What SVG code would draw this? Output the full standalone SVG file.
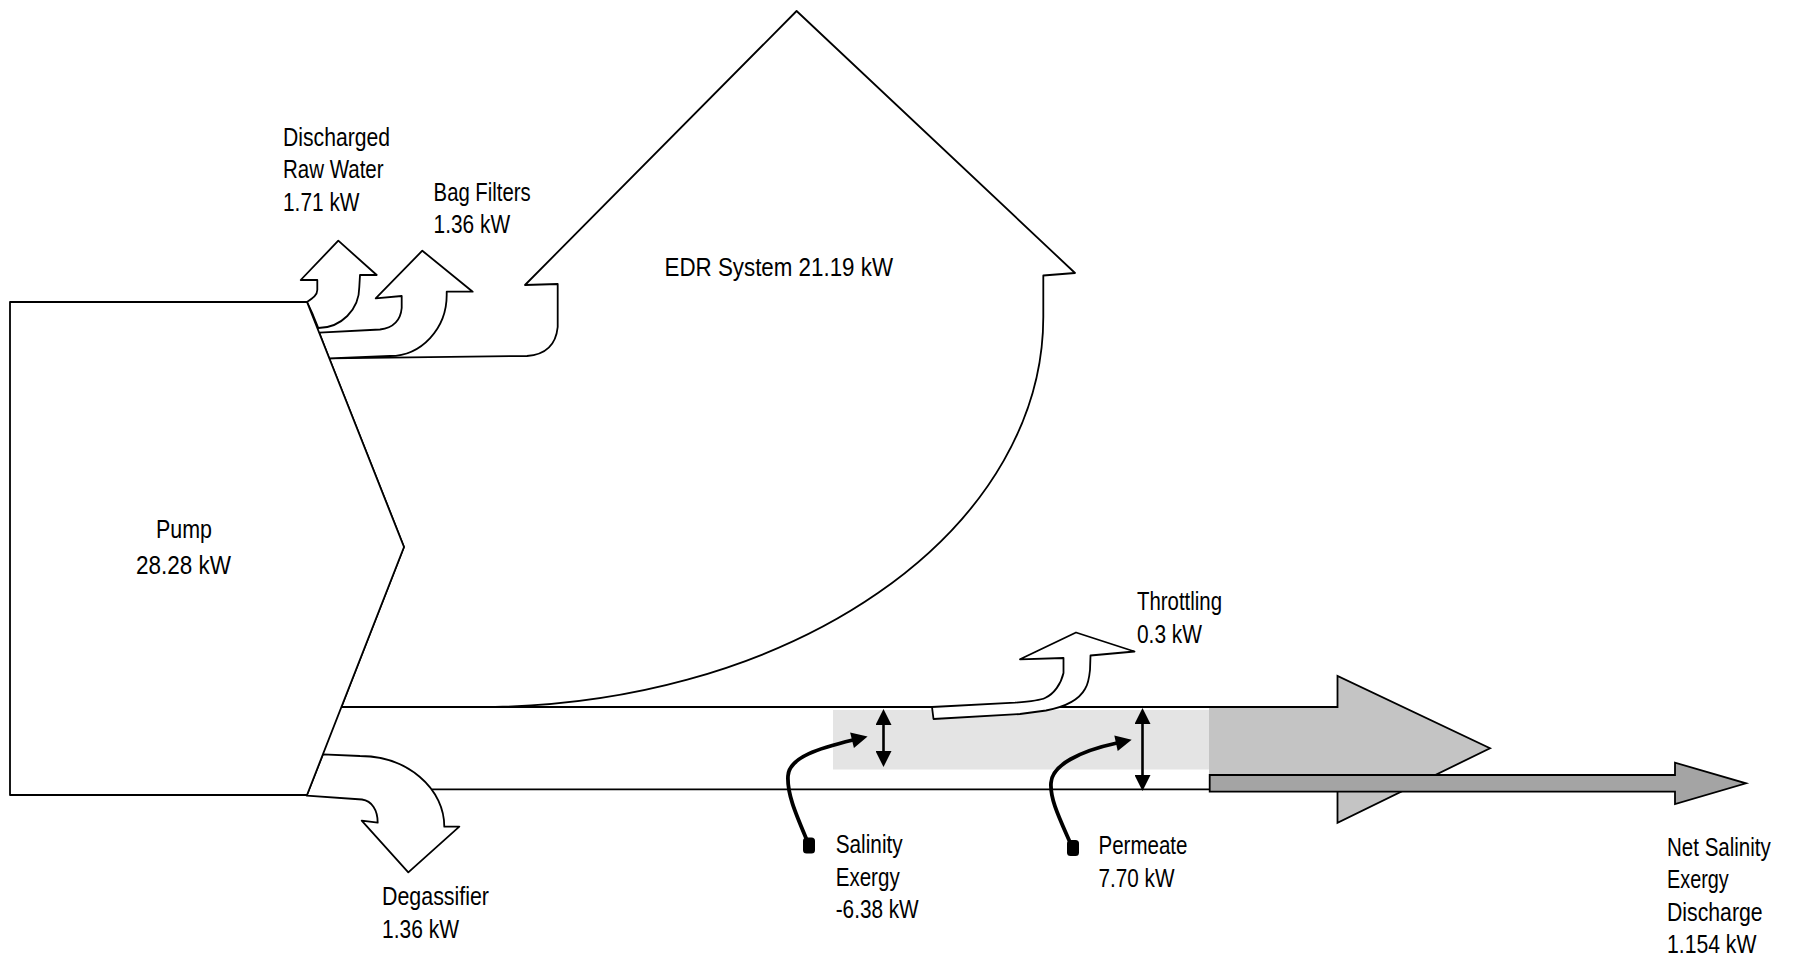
<svg xmlns="http://www.w3.org/2000/svg" width="1796" height="961" viewBox="0 0 1796 961">
<defs>
<style>
.t{font-family:"Liberation Sans",Arial,sans-serif;font-size:26px;fill:#000}
.ts{font-size:25px}
.flow{fill:#fff;stroke:#000;stroke-width:1.8;stroke-linejoin:round}
.ln{fill:none;stroke:#000;stroke-width:1.8}
.ptr{fill:none;stroke:#000;stroke-width:3.8;stroke-linecap:round}
.dbl{fill:none;stroke:#000;stroke-width:2.6}
</style>
<marker id="head" viewBox="0 0 16 16" refX="1" refY="8" markerWidth="17" markerHeight="16" markerUnits="userSpaceOnUse" orient="auto-start-reverse">
<path d="M0,0 L16,8 L0,16 Z" fill="#000"/>
</marker>
</defs>
<rect width="1796" height="961" fill="#fff"/>

<g id="shading">
<rect x="833" y="710" width="376" height="59.5" fill="#e4e4e4"/>
<polygon points="1209,707 1337.5,707 1337.5,676 1490,748.3 1337.5,822.7 1337.5,789 1209,789" fill="#c4c4c4"/>
</g>

<g id="node-edr">
<path class="flow" d="M329.2,358.3 L527,356 Q555,354 557.7,327 L557.7,284 L525,285 L796.6,11 L1075,273 L1043.3,275.5 L1043.3,317 A563,390 0 0 1 480,707 L341.4,707 L404,547 Z"/>
<text class="t" x="664.5" y="276" textLength="228.5" lengthAdjust="spacingAndGlyphs">EDR System 21.19 kW</text>
</g>

<g id="node-discharged">
<path class="flow" d="M307,302 C313,298 317.3,295 317.3,290 L317.3,280 L300.7,280 L338.3,240.7 L376.7,275 L360,275 L359.3,287 A41,41 0 0 1 318.3,328 L313,315 Z"/>
<text class="t" x="283" y="145.7" textLength="107" lengthAdjust="spacingAndGlyphs">Discharged</text>
<text class="t" x="283" y="178.3" textLength="100.6" lengthAdjust="spacingAndGlyphs">Raw Water</text>
<text class="t" x="283" y="211" textLength="76.5" lengthAdjust="spacingAndGlyphs">1.71 kW</text>
</g>

<g id="node-bagfilters">
<path class="flow" d="M329.2,358.3 L390,356 A57,61 0 0 0 446.7,295 L446.7,291.7 L472.7,291.7 L422.3,250.7 L375.7,298.3 L401.7,296 L401.7,308 Q400,327 380,329.5 L319.2,332.7 Z"/>
<text class="t" x="433.6" y="200.7" textLength="97" lengthAdjust="spacingAndGlyphs">Bag Filters</text>
<text class="t" x="433.6" y="233.3" textLength="76.5" lengthAdjust="spacingAndGlyphs">1.36 kW</text>
</g>

<g id="node-degassifier">
<path class="flow" d="M306.7,795.7 L362,799.5 C372,801 377.7,810 377.7,822.7 L361.7,820.7 L408.3,872.3 L459.3,826.7 L444.3,826.7 A84.3,70.7 0 0 0 360,756 L322.9,754.3 Z"/>
<text class="t" x="382" y="905" textLength="107" lengthAdjust="spacingAndGlyphs">Degassifier</text>
<text class="t" x="382" y="938" textLength="77" lengthAdjust="spacingAndGlyphs">1.36 kW</text>
</g>

<g id="connectors">
<path class="ln" d="M341.4,707 L1337.5,707 L1337.5,676 L1490,748.3 L1337.5,822.7 L1337.5,789"/>
<path class="ln" d="M431.7,789.3 L1209,789.3"/>
<path class="dbl" d="M883.5,724 L883.5,752" marker-start="url(#head)" marker-end="url(#head)"/>
<path class="dbl" d="M1142.5,723 L1142.5,776" marker-start="url(#head)" marker-end="url(#head)"/>
<path class="ptr" d="M806,838 C795,812 787,793 788,776 C789,757 820,748 853,740" marker-end="url(#head)"/>
<path class="ptr" d="M1069,840 C1058,815 1050,798 1051,783 C1052,765 1080,751 1117,743" marker-end="url(#head)"/>
<rect x="803" y="837.5" width="12" height="16" rx="3.5" fill="#000"/>
<rect x="1067" y="840" width="12" height="16" rx="3.5" fill="#000"/>
</g>

<g id="node-throttling">
<path class="flow" d="M932,707 L1015,702.7 C1030,701.5 1040,700.5 1045,698 C1054,694 1061,684 1063.5,673 L1063.5,658 L1020,659.3 L1076,632.5 L1134.5,651.5 L1090.5,655.5 L1090,670 C1089,680 1087,686 1085,689 C1080,698 1070,706 1046,710.5 L1020,714 L933.5,719 Z"/>
<text class="t" x="1137" y="610" textLength="85" lengthAdjust="spacingAndGlyphs">Throttling</text>
<text class="t" x="1137" y="643" textLength="65" lengthAdjust="spacingAndGlyphs">0.3 kW</text>
</g>

<g id="node-net">
<polygon points="1209.7,775 1675,775 1675,762.7 1746,783.3 1675,804 1675,791.7 1209.7,791.7" fill="#a4a4a4" stroke="#000" stroke-width="1.8"/>
<text class="t ts" x="1667" y="856" textLength="103.8" lengthAdjust="spacingAndGlyphs">Net Salinity</text>
<text class="t ts" x="1667" y="888.3" textLength="61.8" lengthAdjust="spacingAndGlyphs">Exergy</text>
<text class="t ts" x="1667" y="920.7" textLength="95.6" lengthAdjust="spacingAndGlyphs">Discharge</text>
<text class="t ts" x="1667" y="953" textLength="89.4" lengthAdjust="spacingAndGlyphs">1.154 kW</text>
</g>

<g id="node-salinity">
<text class="t" x="835.7" y="853.3" textLength="67" lengthAdjust="spacingAndGlyphs">Salinity</text>
<text class="t" x="835.7" y="886" textLength="64" lengthAdjust="spacingAndGlyphs">Exergy</text>
<text class="t" x="835.7" y="918.3" textLength="83" lengthAdjust="spacingAndGlyphs">-6.38 kW</text>
</g>

<g id="node-permeate">
<text class="t" x="1098.5" y="854" textLength="89" lengthAdjust="spacingAndGlyphs">Permeate</text>
<text class="t" x="1098.5" y="886.7" textLength="76" lengthAdjust="spacingAndGlyphs">7.70 kW</text>
</g>

<g id="node-pump">
<polygon class="flow" points="10,302 307,302 404,547 307,795 10,795"/>
<text class="t" x="156" y="538.3" textLength="56" lengthAdjust="spacingAndGlyphs">Pump</text>
<text class="t" x="136" y="573.5" textLength="95" lengthAdjust="spacingAndGlyphs">28.28 kW</text>
</g>
</svg>
